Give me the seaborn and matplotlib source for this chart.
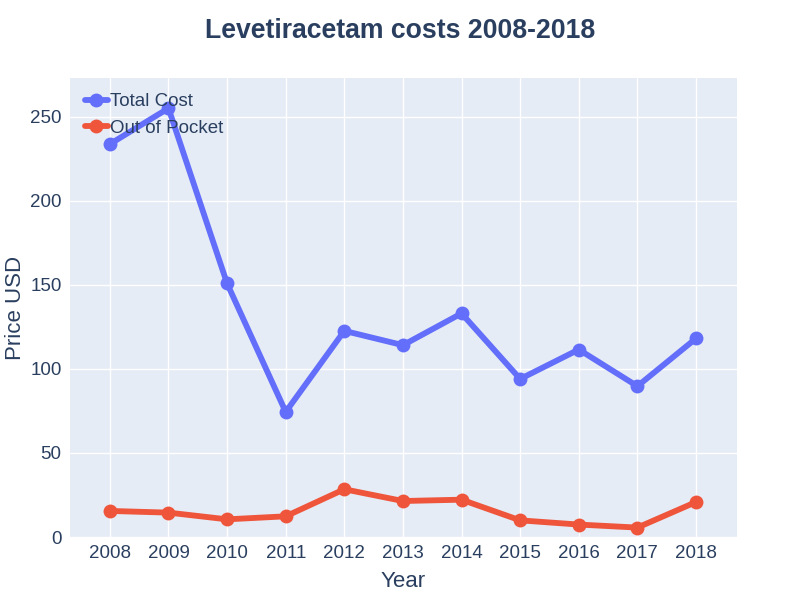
import pandas as pd
import matplotlib
matplotlib.use("Agg")
import matplotlib.pyplot as plt
import seaborn as sns

# data
years = [2008, 2009, 2010, 2011, 2012, 2013, 2014, 2015, 2016, 2017, 2018]
total_cost = [233.7, 255.0, 150.8, 74.4, 122.6, 114.1, 133.0, 94.0, 111.5, 89.7, 118.1]
out_of_pocket = [15.5, 14.5, 10.5, 12.3, 28.4, 21.4, 22.2, 9.9, 7.4, 5.6, 20.8]
series_names = ["Total Cost", "Out of Pocket"]
y_ticks = [0, 50, 100, 150, 200, 250]

df = pd.DataFrame({
    "Year": years * 2,
    "Price USD": total_cost + out_of_pocket,
    "Series": [series_names[0]] * len(years) + [series_names[1]] * len(years),
})

sns.set_style("darkgrid", {"axes.facecolor": "#E5ECF6", "grid.color": "white"})
plt.rcParams["font.family"] = ["Liberation Sans", "DejaVu Sans"]
text_color = "#2a3f5f"

fig = plt.figure(figsize=(8, 6), dpi=100)
ax = fig.add_axes([0.0875, 0.105, 0.8338, 0.765])

sns.lineplot(
    data=df, x="Year", y="Price USD", hue="Series",
    palette=["#636efa", "#EF553B"], marker="o", markersize=10,
    markeredgewidth=0, linewidth=4.2, ax=ax, legend=True,
)

ax.set_xlim(2007.32, 2018.7)
ax.set_ylim(0, 273)
ax.set_xticks(years)
ax.set_yticks(y_ticks)
ax.tick_params(axis="both", colors=text_color, labelsize=13.5, length=0, pad=6)
ax.grid(True, color="white", linewidth=1)
for s in ax.spines.values():
    s.set_visible(False)

ax.set_xlabel("Year", fontsize=16, color=text_color, labelpad=6)
ax.set_ylabel("Price USD", fontsize=16, color=text_color, labelpad=3)
fig.suptitle("Levetiracetam costs 2008-2018", x=0.5, y=0.97,
             fontsize=19.2, fontweight="bold", color=text_color)

leg = ax.legend(loc="upper left", bbox_to_anchor=(0.0, 1.0), frameon=False,
                fontsize=13.5, handlelength=1.2, handletextpad=0.15,
                labelspacing=0.5, borderaxespad=0.6, borderpad=0.2)
for t in leg.get_texts():
    t.set_color(text_color)

fig.savefig("out.png", dpi=100)
